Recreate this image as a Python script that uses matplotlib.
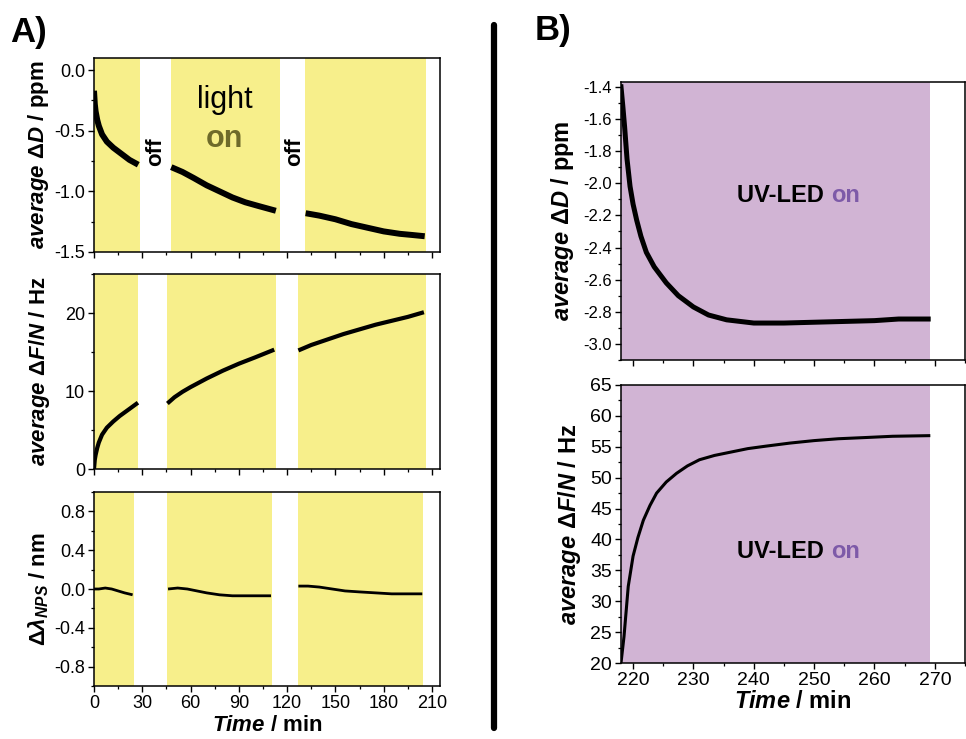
import matplotlib
matplotlib.use("Agg")
import matplotlib.pyplot as plt
from matplotlib.ticker import MultipleLocator, FormatStrFormatter
from matplotlib.lines import Line2D

plt.rcParams['font.family'] = ['Liberation Sans', 'DejaVu Sans']
plt.rcParams['mathtext.fontset'] = 'custom'
plt.rcParams['mathtext.it'] = 'Liberation Sans:italic:bold'
plt.rcParams['mathtext.bf'] = 'Liberation Sans:bold'
plt.rcParams['mathtext.rm'] = 'Liberation Sans:bold'

# ---------------- data: panel A ----------------
# light-on intervals (min) as drawn in each panel
on_D = [(0, 28.6), (47.6, 115.5), (131, 206)]
on_F = [(0, 27.3), (45.4, 112.8), (126.7, 206)]
on_L = [(0, 24.8), (45.1, 110.7), (126.9, 204.5)]

# average dD / ppm
tD1 = [0, 0.5, 1, 2, 3, 5, 8, 12, 17, 22, 27.5]
D1 = [-0.17, -0.28, -0.34, -0.41, -0.46, -0.53, -0.59, -0.64, -0.69, -0.74, -0.78]
tD2 = [48, 55, 62, 70, 78, 86, 94, 102, 113]
D2 = [-0.80, -0.84, -0.89, -0.95, -1.00, -1.05, -1.09, -1.12, -1.16]
tD3 = [131.5, 140, 150, 160, 170, 180, 190, 198, 205.5]
D3 = [-1.18, -1.20, -1.23, -1.27, -1.30, -1.33, -1.35, -1.36, -1.37]

# average dF/N / Hz
tF1 = [0, 0.5, 1, 2, 3, 5, 8, 12, 16, 20, 24, 27.3]
F1 = [0, 1.2, 1.8, 2.7, 3.4, 4.4, 5.3, 6.1, 6.8, 7.4, 8.0, 8.5]
tF2 = [45.6, 50, 55, 60, 70, 80, 90, 100, 112]
F2 = [8.4, 9.2, 9.9, 10.5, 11.6, 12.6, 13.5, 14.3, 15.3]
tF3 = [127, 135, 145, 155, 165, 175, 185, 195, 205]
F3 = [15.2, 15.9, 16.6, 17.3, 17.9, 18.5, 19.0, 19.5, 20.1]

# d lambda_NPS / nm
tL1 = [0, 3, 7, 11, 15, 19, 24]
L1 = [0.0, 0.0, 0.01, 0.0, -0.02, -0.04, -0.06]
tL2 = [46, 52, 58, 64, 70, 78, 86, 95, 103, 110]
L2 = [0.0, 0.01, 0.0, -0.02, -0.04, -0.06, -0.07, -0.07, -0.07, -0.07]
tL3 = [127, 133, 140, 148, 156, 165, 175, 185, 195, 204]
L3 = [0.03, 0.03, 0.02, 0.0, -0.02, -0.03, -0.04, -0.05, -0.05, -0.05]

# ---------------- data: panel B ----------------
uv_on = (218, 269.2)
tBD = [218, 218.3, 218.6, 219, 219.5, 220, 220.6, 221.3, 222.2, 223.5, 225.5,
       227.5, 230, 232.5, 235.5, 240, 245, 250, 255, 260, 264, 268.9]
BD = [-1.40, -1.52, -1.65, -1.85, -2.02, -2.13, -2.23, -2.33, -2.43, -2.52, -2.62,
      -2.70, -2.77, -2.82, -2.85, -2.87, -2.87, -2.865, -2.86, -2.855, -2.845, -2.845]
tBF = [218, 218.5, 219.2, 220, 220.8, 221.7, 222.8, 223.9, 225.5, 227.2, 229, 231,
       233.5, 236.5, 239, 242, 246, 250, 254, 258.6, 263, 269]
BF = [20, 24.3, 32.4, 37.3, 40.3, 43.1, 45.5, 47.5, 49.3, 50.7, 51.9, 52.9,
      53.6, 54.2, 54.7, 55.1, 55.6, 56.0, 56.3, 56.5, 56.7, 56.8]

YELLOW = '#f7ef8b'
PURPLE = '#d1b4d4'
OLIVE = '#6e6a2a'
VIOLET = '#7d5aa8'

W, H = 966, 739
fig = plt.figure(figsize=(W / 100, H / 100), dpi=100)


def box(l, t, r, b):
    return [l / W, 1 - b / H, (r - l) / W, (b - t) / H]


def style(ax, fs):
    for s in ax.spines.values():
        s.set_linewidth(1.1)
    ax.tick_params(which='major', direction='out', length=4.5, width=1.0, labelsize=fs, pad=2)
    ax.tick_params(which='minor', direction='out', length=2.5, width=0.9)


axA1 = fig.add_axes(box(94, 58, 440, 252))
axA2 = fig.add_axes(box(94, 274, 440, 469))
axA3 = fig.add_axes(box(94, 492, 440, 686))
axB1 = fig.add_axes(box(621, 82, 965, 360))
axB2 = fig.add_axes(box(621, 385, 965, 663))

# panel A
for ax, ons, segs, lw in [
    (axA1, on_D, [(tD1, D1), (tD2, D2), (tD3, D3)], 4.3),
    (axA2, on_F, [(tF1, F1), (tF2, F2), (tF3, F3)], 3.0),
    (axA3, on_L, [(tL1, L1), (tL2, L2), (tL3, L3)], 2.0),
]:
    for a, b in ons:
        ax.axvspan(a, b, color=YELLOW, lw=0, zorder=0)
    for t, v in segs:
        ax.plot(t, v, color='black', lw=lw, solid_capstyle='butt', zorder=2)
    ax.set_xlim(0, 215)
    ax.xaxis.set_major_locator(MultipleLocator(30))
    ax.xaxis.set_minor_locator(MultipleLocator(15))
    style(ax, 13)

axA1.set_ylim(-1.5, 0.1)
axA1.yaxis.set_major_locator(MultipleLocator(0.5))
axA1.yaxis.set_minor_locator(MultipleLocator(0.25))
axA1.yaxis.set_major_formatter(FormatStrFormatter('%.1f'))
axA1.tick_params(axis='x', labelbottom=False)
axA1.set_ylabel(r'$\mathit{average\ \Delta D}$ / ppm', fontsize=16, fontweight='bold', labelpad=2)
axA1.text(38.5, -0.67, 'off', rotation=90, ha='center', va='center', fontsize=16, fontweight='bold')
axA1.text(124.5, -0.67, 'off', rotation=90, ha='center', va='center', fontsize=16, fontweight='bold')
axA1.text(81, -0.25, 'light', ha='center', va='center', fontsize=22)
axA1.text(81, -0.57, 'on', ha='center', va='center', fontsize=22, fontweight='bold', color=OLIVE)

axA2.set_ylim(0, 25)
axA2.yaxis.set_major_locator(MultipleLocator(10))
axA2.yaxis.set_minor_locator(MultipleLocator(5))
axA2.tick_params(axis='x', labelbottom=False)
axA2.set_ylabel(r'$\mathit{average\ \Delta F/N}$ / Hz', fontsize=16, fontweight='bold', labelpad=9)

axA3.set_ylim(-1.0, 1.0)
axA3.yaxis.set_major_locator(MultipleLocator(0.4))
axA3.yaxis.set_minor_locator(MultipleLocator(0.2))
axA3.yaxis.set_major_formatter(FormatStrFormatter('%.1f'))
axA3.set_ylabel(r'$\mathit{\Delta\lambda_{NPS}}$ / nm', fontsize=16, fontweight='bold', labelpad=2)
axA3.set_xlabel(r'$\mathit{Time}$ / min', fontsize=16, fontweight='bold', labelpad=2)

# panel B
for ax, t, v, lw in [(axB1, tBD, BD, 3.6), (axB2, tBF, BF, 2.2)]:
    ax.axvspan(uv_on[0], uv_on[1], color=PURPLE, lw=0, zorder=0)
    ax.plot(t, v, color='black', lw=lw, zorder=2)
    ax.set_xlim(218, 275)
    ax.xaxis.set_major_locator(MultipleLocator(10))
    ax.xaxis.set_minor_locator(MultipleLocator(5))

style(axB1, 12)
style(axB2, 14)
axB1.set_ylim(-3.1, -1.37)
axB1.yaxis.set_major_locator(MultipleLocator(0.2))
axB1.yaxis.set_minor_locator(MultipleLocator(0.1))
axB1.yaxis.set_major_formatter(FormatStrFormatter('%.1f'))
axB1.tick_params(axis='x', labelbottom=False)
axB1.set_ylabel(r'$\mathit{average\ \Delta D}$ / ppm', fontsize=17, fontweight='bold', labelpad=5)
axB1.text(0.61, 0.59, 'UV-LED ', transform=axB1.transAxes, ha='right', va='center',
          fontsize=17, fontweight='bold')
axB1.text(0.61, 0.59, 'on', transform=axB1.transAxes, ha='left', va='center',
          fontsize=17, fontweight='bold', color=VIOLET)

axB2.set_ylim(20, 65)
axB2.yaxis.set_major_locator(MultipleLocator(5))
axB2.yaxis.set_minor_locator(MultipleLocator(2.5))
axB2.set_ylabel(r'$\mathit{average\ \Delta F/N}$ / Hz', fontsize=17, fontweight='bold', labelpad=5)
axB2.set_xlabel(r'$\mathit{Time}$ / min', fontsize=17, fontweight='bold', labelpad=1)
axB2.text(0.61, 0.4, 'UV-LED ', transform=axB2.transAxes, ha='right', va='center',
          fontsize=17, fontweight='bold')
axB2.text(0.61, 0.4, 'on', transform=axB2.transAxes, ha='left', va='center',
          fontsize=17, fontweight='bold', color=VIOLET)

# divider and panel letters
fig.add_artist(Line2D([494 / W, 494 / W], [1 - 25 / H, 1 - 728 / H], color='black',
                      lw=4.5, solid_capstyle='round'))
fig.text(10 / W, 1 - 42 / H, 'A)', fontsize=25, fontweight='bold', va='baseline')
fig.text(535 / W, 1 - 40 / H, 'B)', fontsize=25, fontweight='bold', va='baseline')

fig.savefig('out.png', dpi=100)
